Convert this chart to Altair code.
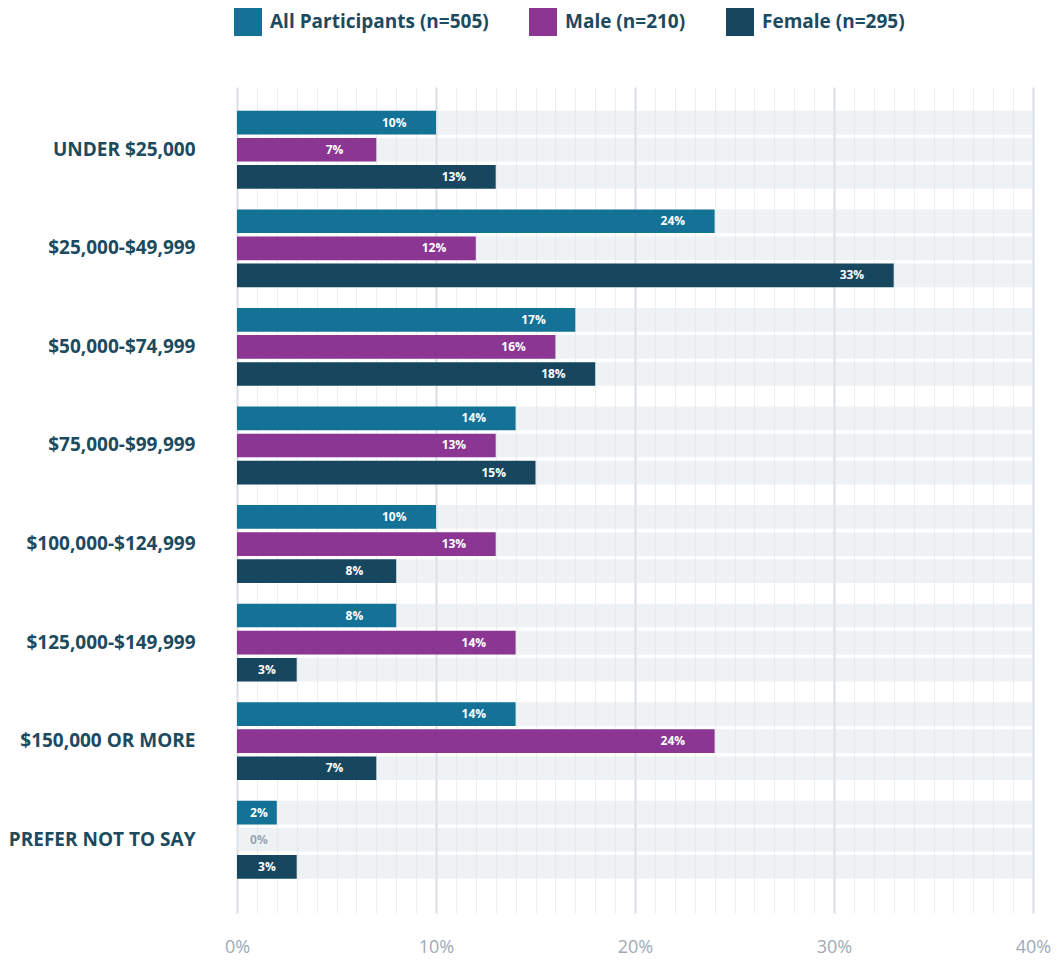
import altair as alt
import pandas as pd

categories = ["UNDER $25,000", "$25,000-$49,999", "$50,000-$74,999", "$75,000-$99,999",
              "$100,000-$124,999", "$125,000-$149,999", "$150,000 OR MORE", "PREFER NOT TO SAY"]
series = ["All Participants (n=505)", "Male (n=210)", "Female (n=295)"]
all_vals = [10, 24, 17, 14, 10, 8, 14, 2]
male_vals = [7, 12, 16, 13, 13, 14, 24, 0]
female_vals = [13, 33, 18, 15, 8, 3, 7, 3]
colors = ["#137296", "#8a3692", "#17475e"]
tick_values = list(range(0, 41))
x_max = 40

rows = []
for s, vals in zip(series, [all_vals, male_vals, female_vals]):
    for c, v in zip(categories, vals):
        rows.append({"category": c, "series": s, "value": v})
df = pd.DataFrame(rows)

text_color = "#1c4a5e"

y_enc = alt.Y("category:N", sort=categories, title=None,
              scale=alt.Scale(paddingInner=0.21, paddingOuter=0.295, align=0.41),
              axis=alt.Axis(labelFontSize=19, labelFontWeight="bold", labelColor=text_color,
                            labelPadding=42, ticks=False, domain=False, labelLimit=400))
yoff = alt.YOffset("series:N", sort=series, scale=alt.Scale(paddingInner=0.127, paddingOuter=0))

x_axis = alt.Axis(values=tick_values, labelExpr="datum.value % 10 === 0 ? datum.value + '%' : ''",
                  labelFontSize=18, labelColor="#9eaab6", labelPadding=25, ticks=False,
                  domain=False, title=None, labelOverlap=False, labelFlush=False,
                  gridColor={"condition": {"test": "datum.value % 10 === 0", "value": "#d9dee3"},
                             "value": "#eceff2"},
                  gridWidth={"condition": {"test": "datum.value % 10 === 0", "value": 2},
                             "value": 1})
x_scale = alt.Scale(domain=[0, x_max], nice=False)

base = alt.Chart(df).transform_calculate(
    bg=str(x_max),
    label_x="max(datum.value - 2.1, datum.value / 2, 1.1)",
    label="datum.value + '%'",
)

bg = base.mark_bar(color="#dfe5ea", opacity=0.5).encode(
    x=alt.X("bg:Q", scale=x_scale, axis=x_axis),
    y=y_enc, yOffset=yoff,
)

bars = base.mark_bar().encode(
    x=alt.X("value:Q", scale=x_scale, axis=x_axis),
    y=y_enc, yOffset=yoff,
    color=alt.Color("series:N", sort=series,
                    scale=alt.Scale(domain=series, range=colors),
                    legend=alt.Legend(orient="none", legendX=-3, legendY=-79,
                                      direction="horizontal", title=None,
                                      symbolType="square", symbolSize=784, symbolStrokeWidth=0,
                                      symbolOpacity=1, labelFontSize=19, labelFontWeight="bold",
                                      labelColor=text_color, columnPadding=40, labelOffset=8,
                                      padding=0, labelLimit=400)),
)

labels = base.mark_text(fontSize=12, fontWeight="bold", align="center", baseline="middle").encode(
    x=alt.X("label_x:Q", scale=x_scale, axis=x_axis),
    y=y_enc, yOffset=yoff,
    text="label:N",
    color=alt.condition(alt.datum.value == 0, alt.value("#9aa5b0"), alt.value("white")),
)

chart = alt.layer(bg, bars, labels).properties(width=796, height=826, padding=0).configure(
    font="Open Sans"
).configure_view(stroke=None)

chart.save("out.html", embed_options={"renderer": "svg", "actions": False})
